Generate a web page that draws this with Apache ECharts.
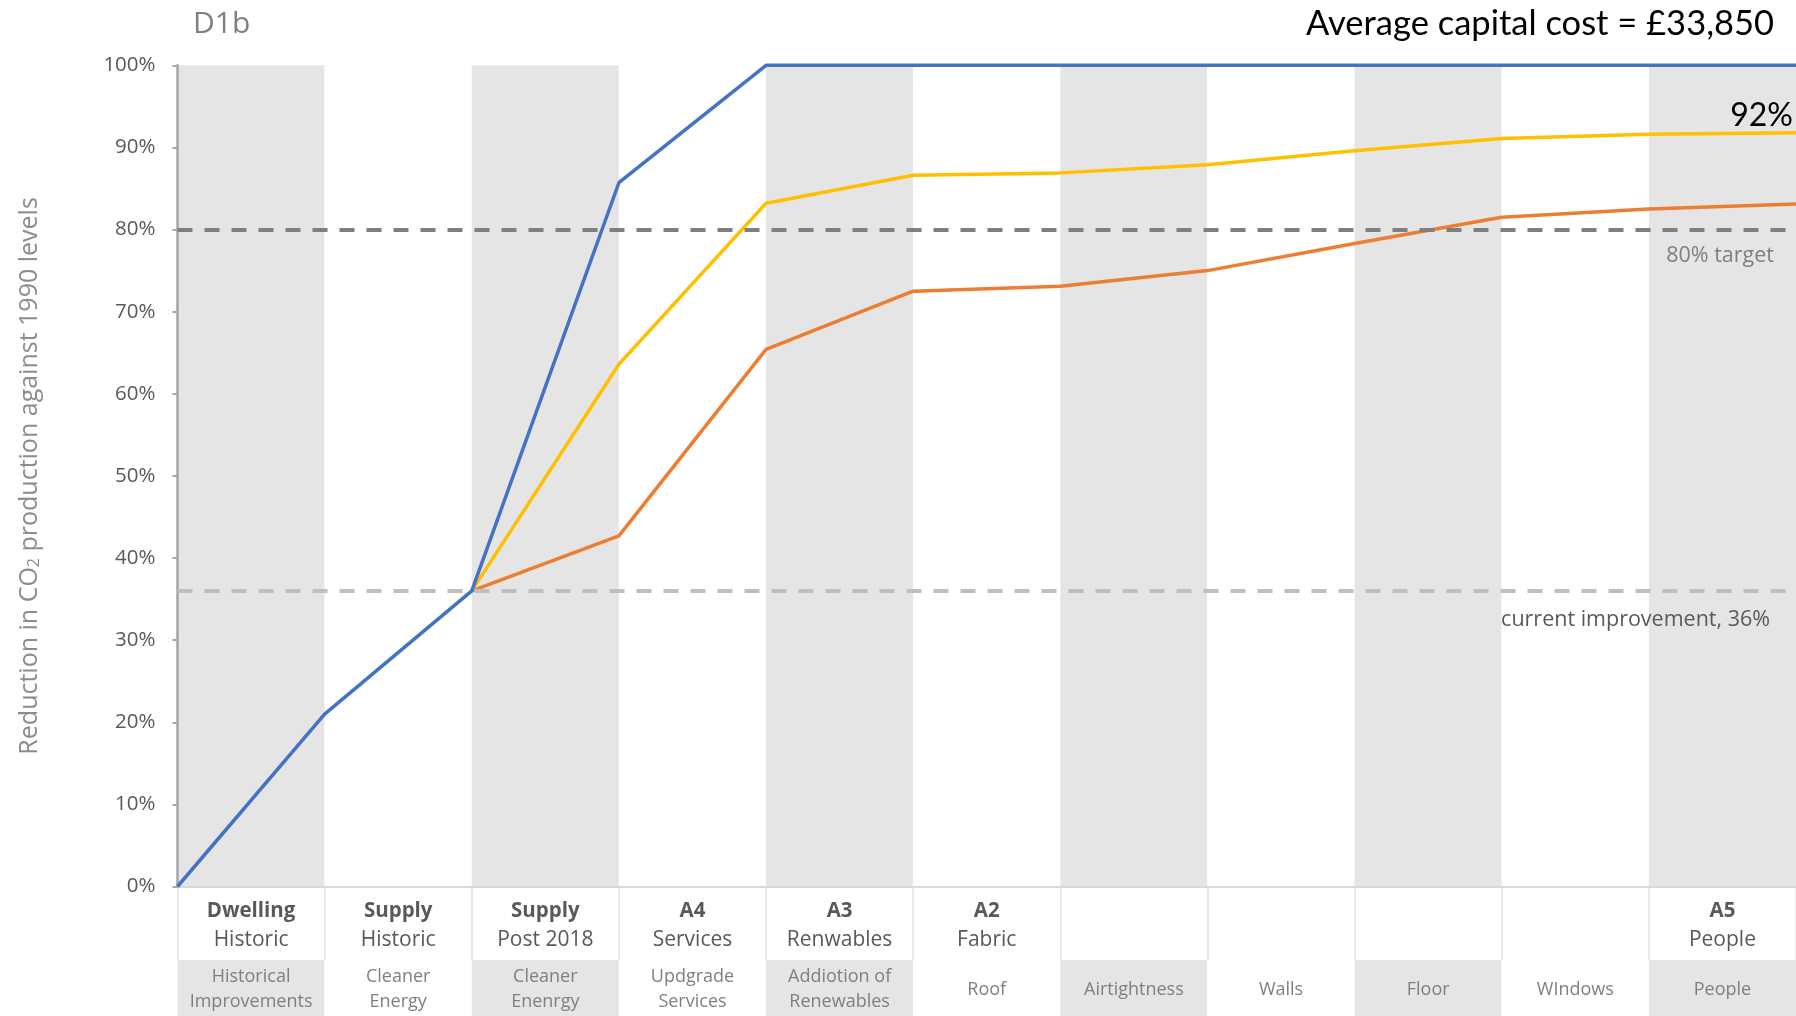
<!DOCTYPE html>
<html>
<head>
<meta charset="utf-8">
<script src="https://cdn.jsdelivr.net/npm/echarts@6/dist/echarts.min.js"></script>
<style>
html,body{margin:0;padding:0;background:#fff;}
#chart{width:1796px;height:1016px;}
</style>
</head>
<body>
<div id="chart"></div>
<script>
// ---- data ----
const headerTop = ['Dwelling','Supply','Supply','A4','A3','A2','','','','','A5'];
const headerSub = ['Historic','Historic','Post 2018','Services','Renwables','Fabric','','','','','People'];
const descriptions = ['Historical\nImprovements','Cleaner\nEnergy','Cleaner\nEnenrgy','Updgrade\nServices','Addiotion of\nRenewables','Roof','Airtightness','Walls','Floor','WIndows','People'];
const stepPoints = [0,1,2,3,4,5,6,7,8,9,10,11];
const blueValues   = [0, 21, 36, 85.7, 100, 100, 100, 100, 100, 100, 100, 100];
const yellowValues = [null, null, 36, 63.6, 83.2, 86.6, 86.9, 87.9, 89.6, 91.1, 91.6, 91.8];
const orangeValues = [null, null, 36, 42.7, 65.4, 72.5, 73.1, 75.0, 78.3, 81.5, 82.5, 83.1];
const targetLevel = 80;
const currentLevel = 36;
const yTicks = {min: 0, max: 100, interval: 10};

const toPts = arr => stepPoints.map((x,i)=>[x, arr[i]]).filter(p => p[1] !== null);

const chart = echarts.init(document.getElementById('chart'));
const FONT = '"Open Sans", "Noto Sans", sans-serif';

const yellowPts = toPts(yellowValues);
const lastY = yellowPts[yellowPts.length-1];

const option = {
  animation: false,
  backgroundColor: '#ffffff',
  title: [
    {text: 'Average capital cost = £33,850', right: 22, top: 6, padding: 0,
     textStyle: {fontSize: 34.5, fontWeight: 'normal', color: '#000', fontFamily: 'Lato, "Open Sans", sans-serif'}},
    {text: 'D1b', left: 193, top: 9, padding: 0,
     textStyle: {fontSize: 30, fontWeight: 'normal', color: '#7f7f7f', fontFamily: FONT}}
  ],
  grid: [
    {left: 177.5, right: 0, top: 65.3, height: 821.2},
    {left: 177.5, right: 0, top: 886.5, height: 73.5},
    {left: 177.5, right: 0, top: 960, height: 56}
  ],
  xAxis: [
    {type: 'category', gridIndex: 0, data: descriptions, boundaryGap: true,
     axisLine: {show: true, lineStyle: {color: '#d9d9d9', width: 2}},
     axisTick: {show: false}, axisLabel: {show: false},
     splitArea: {show: true, interval: 0, areaStyle: {color: ['#e5e5e5', '#ffffff']}},
     splitLine: {show: false}},
    {type: 'value', gridIndex: 0, min: 0, max: 11, show: false},
    {type: 'category', gridIndex: 1, data: headerTop, position: 'top', boundaryGap: true,
     axisLine: {show: false}, axisTick: {show: false},
     splitLine: {show: true, interval: 0, lineStyle: {color: '#e9e9e9', width: 2}},
     axisLabel: {
       inside: true, interval: 0, margin: 39, verticalAlign: 'middle',
       formatter: (v, i) => v ? '{b|' + v + '}\n{r|' + headerSub[i] + '}' : '',
       rich: {
         b: {fontSize: 20.5, fontWeight: 'bold', color: '#595959', lineHeight: 28.6, fontFamily: FONT},
         r: {fontSize: 21, color: '#595959', lineHeight: 28.6, fontFamily: FONT}
       }
     }},
    {type: 'category', gridIndex: 2, data: descriptions, position: 'top', boundaryGap: true,
     axisLine: {show: false}, axisTick: {show: false},
     splitArea: {show: true, interval: 0, areaStyle: {color: ['#e5e5e5', '#ffffff']}},
     axisLabel: {
       inside: true, interval: 0, margin: 29.5, verticalAlign: 'middle',
       fontSize: 18, lineHeight: 25, color: '#7f7f7f', fontFamily: FONT
     }}
  ],
  yAxis: [
    {type: 'value', gridIndex: 0, min: yTicks.min, max: yTicks.max, interval: yTicks.interval,
     axisLine: {show: true, lineStyle: {color: '#a6a6a6', width: 2.5}},
     axisTick: {show: true, length: 5, lineStyle: {color: '#a6a6a6', width: 2}},
     splitLine: {show: false},
     axisLabel: {formatter: '{value}%', fontSize: 20.5, color: '#595959', margin: 22, fontFamily: FONT},
     name: 'Reduction in CO{s|2} production against 1990 levels',
     nameLocation: 'middle', nameRotate: 90, nameGap: 135,
     nameTextStyle: {fontSize: 25, color: '#8c8c8c', fontFamily: FONT,
       rich: {s: {fontSize: 16, color: '#8c8c8c', verticalAlign: 'bottom', padding: [10,0,0,0], fontFamily: FONT}}}},
    {type: 'value', gridIndex: 1, min: 0, max: 1, show: false},
    {type: 'value', gridIndex: 2, min: 0, max: 1, show: false}
  ],
  series: [
    {name: 'Orange', type: 'line', xAxisIndex: 1, yAxisIndex: 0, data: toPts(orangeValues),
     symbol: 'none', clip: false, lineStyle: {color: '#ED7D31', width: 3.5}},
    {name: 'Yellow', type: 'line', xAxisIndex: 1, yAxisIndex: 0, data: yellowPts,
     symbol: 'none', clip: false, lineStyle: {color: '#FFC000', width: 3.5},
     markPoint: {
       silent: true, symbol: 'circle', symbolSize: 0, animation: false,
       data: [{coord: lastY, value: lastY[1]}],
       label: {
         show: true, position: 'top', align: 'right', verticalAlign: 'bottom', offset: [-3, 4],
         formatter: p => Math.round(p.value) + '%',
         color: '#000', fontSize: 32, fontFamily: 'Lato, "Open Sans", sans-serif'
       }
     }},
    {name: 'Blue', type: 'line', xAxisIndex: 1, yAxisIndex: 0, data: toPts(blueValues),
     symbol: 'none', clip: false, lineStyle: {color: '#4472C4', width: 3.5}, z: 3,
     markLine: {
       silent: true, symbol: 'none', animation: false,
       data: [
         {yAxis: targetLevel,
          lineStyle: {color: '#7f7f7f', width: 4, type: [15, 12]},
          label: {show: true, position: 'insideEndBottom', formatter: '80% target',
                  fontSize: 21.5, color: '#7f7f7f', fontFamily: FONT, distance: [22, 15]}},
         {yAxis: currentLevel,
          lineStyle: {color: '#bfbfbf', width: 4, type: [15, 12]},
          label: {show: true, position: 'insideEndBottom', formatter: 'current improvement, 36%',
                  fontSize: 21.5, color: '#595959', fontFamily: FONT, distance: [26, 18]}}
       ]
     }}
  ]
};
chart.setOption(option);
</script>
</body>
</html>
